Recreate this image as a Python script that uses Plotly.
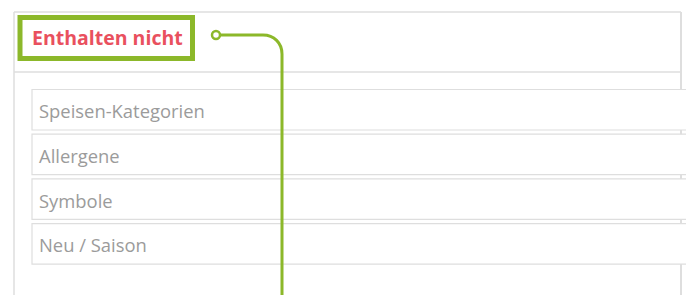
import plotly.graph_objects as go

# ---- content ----
title_text = "Enthalten nicht"
field_labels = ["Speisen-Kategorien", "Allergene", "Symbole", "Neu / Saison"]

# ---- styles ----
GREEN = "#8cb82a"
RED = "#e9505e"
GRAY_TEXT = "#9b9b9b"
BORDER = "#dedede"
W, H = 686, 295

# layout constants
PANEL_L, PANEL_R, PANEL_T = 14, 681, 12
HEADER_LINE_Y = 72
FIELD_L, FIELD_R = 32, 681
FIELD_TOP0, FIELD_H, FIELD_PITCH = 89.5, 40.5, 44.7

fig = go.Figure()
shapes = []
annotations = []

# outer panel
shapes.append(dict(type="line", x0=PANEL_L, x1=PANEL_L, y0=PANEL_T, y1=H + 5,
                   line=dict(color=BORDER, width=1.5)))
shapes.append(dict(type="line", x0=PANEL_R, x1=PANEL_R, y0=PANEL_T, y1=H + 5,
                   line=dict(color=BORDER, width=2)))
shapes.append(dict(type="line", x0=PANEL_L, x1=PANEL_R, y0=PANEL_T, y1=PANEL_T,
                   line=dict(color=BORDER, width=1.5)))
shapes.append(dict(type="line", x0=PANEL_L, x1=PANEL_R, y0=HEADER_LINE_Y, y1=HEADER_LINE_Y,
                   line=dict(color=BORDER, width=1.5)))

# input fields
for i, lab in enumerate(field_labels):
    top = FIELD_TOP0 + i * FIELD_PITCH
    shapes.append(dict(type="rect", x0=FIELD_L, x1=FIELD_R + 10, y0=top, y1=top + FIELD_H,
                       line=dict(color=BORDER, width=1.2), fillcolor="white"))
    annotations.append(dict(x=FIELD_L + 5, y=top + FIELD_H / 2 + 1, xref="x", yref="y",
                            text=lab, showarrow=False, xanchor="left", yanchor="middle",
                            font=dict(family="Open Sans", size=18.4, color=GRAY_TEXT)))

# highlight box around the title
shapes.append(dict(type="rect", x0=20, x1=192.5, y0=17.5, y1=58.5,
                   line=dict(color=GREEN, width=5), fillcolor="rgba(0,0,0,0)"))
annotations.append(dict(x=30, y=37, xref="x", yref="y", text=title_text, showarrow=False,
                        xanchor="left", yanchor="middle",
                        font=dict(family="Open Sans", size=19.5, color=RED, weight=700)))

# connector line
shapes.append(dict(type="path",
                   path="M 220 35 L 263 35 C 274 35 282 43 282 54 L 282 300",
                   line=dict(color=GREEN, width=3)))
shapes.append(dict(type="circle", x0=212, x1=220, y0=31, y1=39,
                   line=dict(color=GREEN, width=2.5), fillcolor="white"))

fig.update_layout(
    width=W, height=H,
    margin=dict(l=0, r=0, t=0, b=0),
    paper_bgcolor="white", plot_bgcolor="white",
    xaxis=dict(range=[0, W], visible=False, fixedrange=True),
    yaxis=dict(range=[H, 0], visible=False, fixedrange=True),
    shapes=shapes, annotations=annotations, showlegend=False,
)

fig.write_html("out.html", config={"displayModeBar": False},
               post_script="document.body.style.margin='0';")
